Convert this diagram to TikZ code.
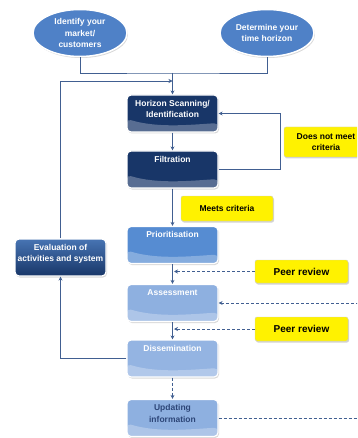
\documentclass[tikz,border=0pt]{standalone}
\usepackage{fontspec}
\setmainfont{Liberation Sans}
\usetikzlibrary{arrows.meta,shapes.geometric,shadows}

\definecolor{navy}{RGB}{24,54,104}
\definecolor{goalblue}{RGB}{79,129,199}
\definecolor{prioblue}{RGB}{86,140,210}
\definecolor{paleblue}{RGB}{142,176,224}
\definecolor{linecol}{RGB}{65,95,145}
\definecolor{darktext}{RGB}{45,70,120}

% text that sits at the top of a stage box
\newcommand{\stagetext}[1]{\parbox[t][31pt][t]{88pt}{\centering\strut #1}}

\begin{document}
\begin{tikzpicture}[x=1pt, y=-1pt,
    every node/.style={font=\fontsize{8.5}{11.5}\selectfont\bfseries},
    flow/.style={draw=linecol, line width=0.9pt},
    conn/.style={flow, -{Stealth[length=4pt,width=4pt]}},
    dconn/.style={conn, dash pattern=on 3pt off 2pt},
    goalnode/.style={ellipse, fill=goalblue, draw=white, line width=1.5pt,
        minimum width=94pt, minimum height=47pt, inner sep=0pt, align=center,
        text=white, drop shadow={opacity=0.3, shadow xshift=1pt, shadow yshift=-1.5pt}},
    stage/.style={rounded corners=4pt, draw=white, line width=1.2pt,
        minimum width=91pt, minimum height=37pt, inner xsep=1.5pt, inner ysep=3pt,
        text=white, drop shadow={opacity=0.3, shadow xshift=1pt, shadow yshift=-1.5pt}},
    wavy/.style={stage, path picture={
        \fill[white, opacity=0.28] ([yshift=13pt]path picture bounding box.south west)
          .. controls +(30pt,-9pt) and +(-30pt,-2pt) .. ([yshift=9pt]path picture bounding box.south east)
          -- (path picture bounding box.south east) -- (path picture bounding box.south west) -- cycle;}},
    notebox/.style={fill=yellow, draw=gray!40, line width=0.4pt, rounded corners=2pt,
        align=center, text=black, inner sep=1pt,
        drop shadow={opacity=0.35, shadow xshift=1pt, shadow yshift=-1.5pt}},
  ]
  \useasboundingbox (0,0) rectangle (357,438);
  \clip (0,0) rectangle (357,438);

  % Starting points
  \node (mkt) [goalnode] at (80,33) {Identify your\\market/\\customers};
  \node (hor) [goalnode] at (267,33) {Determine your\\time horizon};

  % Main chain
  \node (hs) [wavy, fill=navy] at (172.5,113.5) {\stagetext{Horizon Scanning/\\Identification}};
  \node (filt) [wavy, fill=navy] at (172.5,169.5) {\stagetext{Filtration}};
  \node (prio) [wavy, fill=prioblue] at (172.5,245) {\stagetext{Prioritisation}};
  \node (assess) [wavy, fill=paleblue] at (172.5,303) {\stagetext{Assessment}};
  \node (diss) [wavy, fill=paleblue!95!white] at (172.5,358.5) {\stagetext{Dissemination}};
  \node (upd) [wavy, fill=paleblue, text=darktext] at (172.5,418) {\stagetext{Updating\\information}};
  \node (eval) [stage, top color=goalblue!90!black, bottom color=navy] at (60.5,257.5)
      {\stagetext{Evaluation of\\activities and system}};

  % Yellow notes
  \node (nomeet) [notebox, minimum width=84pt, minimum height=30pt] at (326,142) {Does not meet\\criteria};
  \node (meets) [notebox, minimum width=92pt, minimum height=25pt] at (227,208.5) {Meets criteria};
  \node (peer1) [notebox, minimum width=93pt, minimum height=23pt,
      font=\fontsize{10}{12}\selectfont\bfseries] at (301.5,271.5) {Peer review};
  \node (peer2) [notebox, minimum width=93pt, minimum height=24pt,
      font=\fontsize{10}{12}\selectfont\bfseries] at (301.5,329) {Peer review};

  % Connectors
  \coordinate (join) at (172.5,73);
  \coordinate (fb) at (172.5,81);
  \draw[flow] (mkt.south) |- (join) -| (hor.south);
  \draw[conn] (join) -- (hs.north);
  \draw[conn] (eval.north) |- (fb);
  \draw[conn] (hs) -- (filt);
  \draw[conn] (filt.east) -- ++(62,0) |- (hs.east);
  \draw[conn] (filt) -- (prio);
  \draw[conn] (prio) -- (assess);
  \draw[conn] (assess) -- (diss);
  \draw[dconn] (diss) -- (upd);
  \draw[dconn] (peer1.west) -- ([xshift=1.5pt]prio.south |- peer1.west);
  \draw[dconn] (peer2.west) -- ([xshift=1.5pt]assess.south |- peer2.west);
  \draw[dconn] (upd.east) -- ++(170,0) |- (assess.east);
  \draw[conn] (diss.west) -| (eval.south);
\end{tikzpicture}
\end{document}
